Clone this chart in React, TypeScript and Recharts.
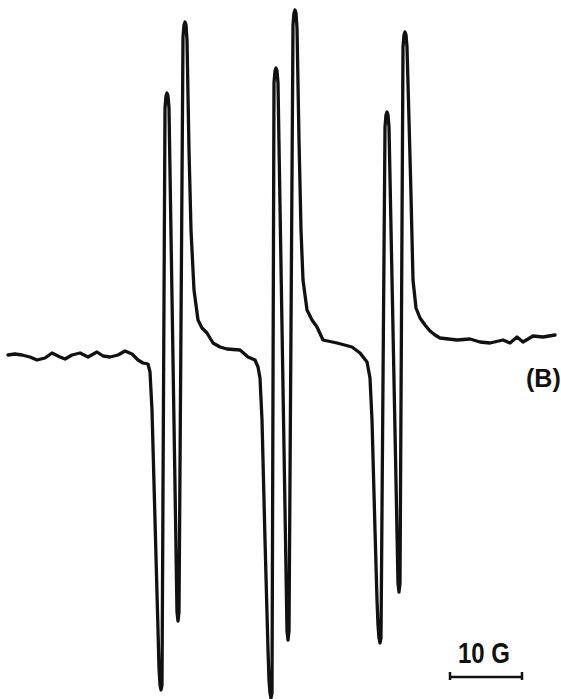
import { LineChart, Line, XAxis, YAxis, ReferenceLine } from 'recharts';

// field position (px along the sweep) and derivative signal (baseline = 0)
// rows are kept the same length in both arrays so they pair up
const field = [
  8, 15, 22, 30, 37, 45, 52, 60, 65, 72, 80, 88, 97, 103, 110, 118, 125, 132, 138, 143, 148,
  150, 152, 155, 158, 159, 160, 161, 162, 165, 166, 167, 168, 169, 177, 178, 179, 183, 184, 185, 186, 187,
  189, 191, 194, 198, 202, 207, 213, 220, 227, 240, 248, 255, 258,
  260, 262, 265, 268, 269, 270, 271, 272, 274, 275, 276, 277, 278, 287, 288, 289, 293, 294, 295, 296, 297,
  299, 301, 303, 307, 312, 317, 323, 337, 352, 360, 367,
  370, 372, 375, 377, 378, 379, 380, 381, 385, 386, 387, 388, 389, 398, 399, 400, 403, 404, 405, 406, 407,
  409, 411, 413, 416, 420, 425, 430, 435, 440, 457, 470, 480, 490, 503, 510, 517, 523, 533, 543, 555
];

const signal = [
  0, 1, 0, -2, -5, -3, 2, -2, -4, 0, 2, -2, 3, -1, -2, 0, 4, 1, -5, -8, -9,
  -17, -55, -165, -275, -313, -330, -335, -330, 247, 259, 262, 259, 247, -257, -266, -257, 318, 330, 333, 330, 315,
  205, 125, 65, 35, 27, 22, 12, 8, 6, 5, -2, -5, -12,
  -23, -65, -185, -295, -325, -338, -343, -338, 272, 284, 287, 284, 272, -276, -285, -276, 330, 342, 345, 342, 327,
  215, 125, 75, 45, 35, 28, 15, 12, 8, 2, -7,
  -23, -65, -175, -245, -270, -283, -288, -283, 228, 240, 243, 240, 228, -228, -237, -228, 308, 320, 323, 320, 308,
  235, 160, 75, 47, 37, 30, 24, 20, 17, 15, 16, 13, 12, 15, 12, 18, 13, 19, 18, 20
];

const scaleBarX = [450, 522];
const scaleBarY = -322;

const data = field.map((x, i) => ({ x, y: signal[i] }));

export default function App() {
  return (
    <div style={{ position: 'absolute', left: 0, top: 0, width: 561, height: 699, background: '#fff', overflow: 'hidden' }}>
      <LineChart width={561} height={699} data={data} margin={{ top: 0, right: 0, bottom: 0, left: 0 }}>
        <XAxis type="number" dataKey="x" domain={[0, 561]} hide />
        <YAxis type="number" domain={[-344, 355]} hide />
        <Line
          type="linear"
          dataKey="y"
          stroke="#111"
          strokeWidth={3.3}
          strokeLinejoin="round"
          strokeLinecap="round"
          dot={false}
          activeDot={false}
          isAnimationActive={false}
        />
        <ReferenceLine
          segment={[{ x: scaleBarX[0], y: scaleBarY }, { x: scaleBarX[1], y: scaleBarY }]}
          stroke="#111"
          strokeWidth={2.5}
        />
        <ReferenceLine
          segment={[{ x: scaleBarX[0], y: scaleBarY + 5 }, { x: scaleBarX[0], y: scaleBarY - 3 }]}
          stroke="#111"
          strokeWidth={2.5}
        />
        <ReferenceLine
          segment={[{ x: scaleBarX[1], y: scaleBarY + 5 }, { x: scaleBarX[1], y: scaleBarY - 3 }]}
          stroke="#111"
          strokeWidth={2.5}
        />
      </LineChart>
      <div
        style={{
          position: 'absolute',
          left: 526,
          top: 366,
          fontFamily: '"Liberation Sans", Arial, sans-serif',
          fontWeight: 'bold',
          fontSize: 25,
          lineHeight: 1,
          color: '#111',
          whiteSpace: 'nowrap'
        }}
      >
        (B)
      </div>
      <div
        style={{
          position: 'absolute',
          left: 458,
          top: 638,
          fontFamily: '"Liberation Sans", Arial, sans-serif',
          fontWeight: 'bold',
          fontSize: 30,
          lineHeight: 1,
          color: '#111',
          transform: 'scaleX(0.8)',
          transformOrigin: 'left top',
          whiteSpace: 'nowrap'
        }}
      >
        10 G
      </div>
    </div>
  );
}
